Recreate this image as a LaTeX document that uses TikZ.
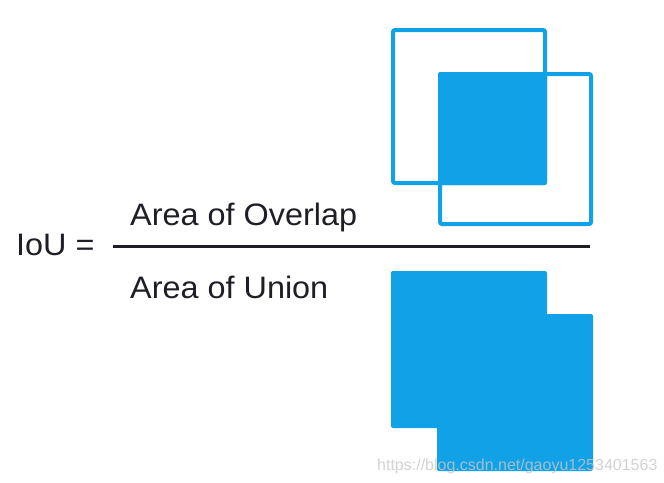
\documentclass[tikz,border=0pt]{standalone}
\usepackage{fontspec}
\setmainfont{Liberation Sans}
\newfontfamily\labelfont[FakeStretch=1.045]{Liberation Sans}
\usepackage{xcolor}
\usepackage{tikz}
\usetikzlibrary{positioning}

\definecolor{ioublue}{RGB}{17,161,230}
\definecolor{inkdark}{RGB}{30,30,38}

\begin{document}
\begin{tikzpicture}[x=1pt, y=-1pt,
  boxline/.style={draw=ioublue, line width=4pt, rounded corners=2pt},
  boxfill/.style={fill=ioublue, rounded corners=2pt},
  txt/.style={anchor=base west, inner sep=0pt, text=inkdark,
              font=\labelfont\fontsize{31}{36}\selectfont},
  bar/.style={draw=inkdark, line width=2.7pt},
  wm/.style={anchor=base west, inner sep=0pt, text=black!22,
             text opacity=0.8, font=\fontsize{16}{18}\selectfont},
]
\useasboundingbox (0,0) rectangle (664,482);

% overlap
\fill[boxfill] (438,72) rectangle (547,185);
\draw[boxline] (393,30) rectangle (545,183);
\draw[boxline] (440,74) rectangle (591,224);

% union
\fill[boxfill] (391,271) rectangle (547,428);
\fill[boxfill] (437,314) rectangle (593,471);

\node[txt] (iou)     at (16,255)  {IoU =};
\node[txt] (overlap) at (130,225) {Area of Overlap};
\node[txt] (union)   at (130,298) {Area of Union};

\coordinate (barL) at (113,246.5);
\coordinate (barR) at (590,246.5);
\draw[bar] (barL) -- (barR);

\node[wm] (mark) at (377,470) {https://blog.csdn.net/gaoyu1253401563};
\end{tikzpicture}
\end{document}
